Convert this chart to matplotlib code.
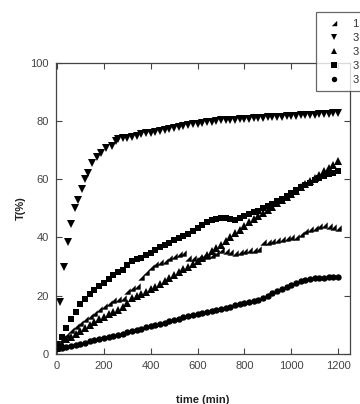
import numpy as np
import matplotlib
matplotlib.use("Agg")
import matplotlib.pyplot as plt
from matplotlib.path import Path

plt.rcParams['font.family'] = ['Liberation Sans', 'DejaVu Sans']

# time axis (min) for the regularly sampled series
t_reg = np.arange(0, 1201, 20)

# series 1 (right-triangle marker)
s1 = [3, 5, 6.5, 8.3, 9.5, 10.8, 12, 13, 14.2, 15.3, 16.5, 17.5, 18.5, 19, 19.3,
      21.5, 22.8, 23.5, 26.5, 28.3, 29.8, 30.8, 31.5, 32, 32.8, 33.5, 34.2, 34.6,
      32.8, 32.8, 33, 33.3, 33.6, 34, 34.7, 35.8, 35.5, 35, 34.8, 35, 35.3, 35.7,
      35.7, 36, 38.3, 38.5, 38.8, 39.3, 39.6, 39.8, 40, 40.3, 41.2, 42.2, 43,
      43.4, 43.8, 44.2, 44, 43.5, 43.2]

# series 2 (down triangle) has its own time points
t_down = [0, 13, 30, 45, 58, 77, 91, 105, 120, 134, 148, 169, 188, 209, 233, 252,
          260, 280, 300, 320, 340, 360, 380, 400, 420, 440, 460, 480, 500, 520, 540,
          560, 580, 600, 620, 640, 660, 680, 700, 720, 740, 760, 780, 800, 820, 840,
          860, 880, 900, 920, 940, 960, 980, 1000, 1020, 1040, 1060, 1080, 1100,
          1120, 1140, 1160, 1180, 1200]
s2 = [3, 18, 30, 38.5, 44.6, 50, 53, 56.6, 60, 62, 65.6, 67.7, 69, 70.6, 71.3, 73.2,
      73.8, 74, 74.2, 74.5, 75, 75.5, 75.8, 76, 76.2, 76.5, 76.8, 77.2, 77.5, 77.8,
      78.2, 78.5, 78.8, 79, 79.3, 79.6, 79.8, 80, 80.2, 80.3, 80.4, 80.5, 80.6, 80.7,
      80.8, 80.9, 81, 81.1, 81.2, 81.3, 81.4, 81.5, 81.6, 81.7, 81.8, 81.9, 82, 82.1,
      82.2, 82.3, 82.4, 82.5, 82.6, 82.8]

# series 3 (up triangle)
s3 = [2, 3.5, 5, 6, 7, 8, 9, 10, 11, 12, 12.8, 13.6, 14.4, 15.2, 16, 17.5, 19.2,
      19.8, 20.5, 21.3, 22.2, 23, 24, 25, 26, 27, 28, 29.2, 30, 31, 32, 33, 34, 35.2,
      36.3, 37.5, 38.8, 40.2, 41.5, 42.7, 44, 45.2, 46.3, 47.4, 48.5, 49.5, 50.6,
      51.7, 52.8, 53.9, 55, 56.1, 57.2, 58.3, 59.4, 60.5, 61.6, 62.7, 63.8, 65, 66.3]

# series 4 (square)
s4 = [3, 6, 9, 12, 14.5, 17, 19, 20.5, 22, 23.5, 24.5, 25.8, 27, 28, 29, 30.5, 31.8,
      32.5, 33, 34, 34.8, 35.8, 36.8, 37.3, 38, 39, 39.8, 40.5, 41.3, 42.3, 43.2,
      44.2, 45.3, 46, 46.5, 46.8, 46.8, 46.5, 46, 46.8, 47.5, 48, 48.6, 49.2, 50,
      50.8, 51.6, 52.4, 53.3, 54.2, 55.2, 56.2, 57.2, 58, 58.8, 59.6, 60.4, 61.1,
      61.7, 62.2, 62.7]

# series 5 (circle)
s5 = [2, 2.2, 2.5, 2.8, 3.1, 3.5, 3.9, 4.3, 4.7, 5.1, 5.5, 5.8, 6.2, 6.6, 7, 7.5,
      7.9, 8.3, 8.7, 9.1, 9.5, 9.9, 10.3, 10.8, 11.2, 11.6, 12.1, 12.6, 13, 13.3,
      13.6, 14, 14.4, 14.8, 15.2, 15.5, 15.9, 16.3, 16.7, 17.1, 17.5, 17.8, 18.2,
      18.7, 19.3, 20, 20.8, 21.6, 22.4, 23.1, 23.8, 24.4, 24.9, 25.3, 25.7, 26,
      26.1, 26.2, 26.4, 26.5, 26.6]

labels = ['1 h', '3 h', '3 h', '3 h', '3 h']

W, H = 360, 404
fig = plt.figure(figsize=(W / 100, H / 100), dpi=100)
left_px, right_px, bot_px, top_px = 55.8, 350, 354, 62.7
ax = fig.add_axes([left_px / W, 1 - bot_px / H, (right_px - left_px) / W,
                   (bot_px - top_px) / H])

rtri = Path([(1, -1), (1, 1), (-1, -1), (1, -1)],
            [Path.MOVETO, Path.LINETO, Path.LINETO, Path.CLOSEPOLY])

kw = dict(linestyle='none', color='black', markeredgewidth=0)
h1, = ax.plot(t_reg, s1, marker=rtri, markersize=4.6, **kw)
h2, = ax.plot(t_down, s2, marker='v', markersize=5.2, **kw)
h3, = ax.plot(t_reg, s3, marker='^', markersize=5.2, **kw)
h4, = ax.plot(t_reg, s4, marker='s', markersize=4.4, **kw)
h5, = ax.plot(t_reg, s5, marker='o', markersize=4.6, **kw)

ax.set_xlim(-5, 1251)
ax.set_ylim(0, 100)
ax.set_xticks(np.arange(0, 1201, 200))
ax.set_yticks(np.arange(0, 101, 20))
ax.tick_params(direction='in', top=True, right=True, length=4, width=0.8,
               colors='#444444', labelsize=8, pad=5)
for sp in ax.spines.values():
    sp.set_color('#444444')
    sp.set_linewidth(0.9)

ax.set_xlabel('time (min)', fontsize=8, fontweight='bold', labelpad=17,
              color='#222222')
ax.set_ylabel('T(%)', fontsize=8, fontweight='bold', labelpad=3,
              color='#222222')

leg = fig.legend([h1, h2, h3, h4, h5], labels, loc='upper left',
                 bbox_to_anchor=(316 / W, 1 - 12 / H), fontsize=8,
                 frameon=True, fancybox=False, edgecolor='#444444',
                 borderpad=0.6, labelspacing=0.36, handlelength=2.0,
                 handletextpad=0.75, borderaxespad=0, markerscale=0.85)
leg.get_frame().set_linewidth(0.9)
for t in leg.get_texts():
    t.set_color('#333333')

fig.savefig('out.png', dpi=100)
